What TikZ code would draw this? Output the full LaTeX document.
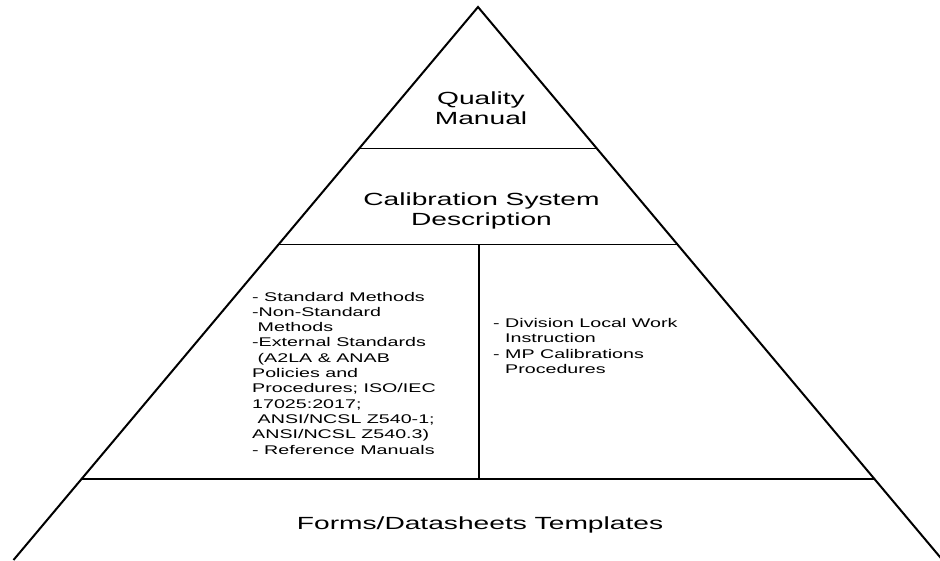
\documentclass[tikz,border=0pt]{standalone}
\usepackage{fontspec}
\setmainfont{Liberation Sans}
\newfontfamily\wf[FakeStretch=1.60]{Liberation Sans}
\newfontfamily\wfs[FakeStretch=1.56]{Liberation Sans}
\usetikzlibrary{calc}
\begin{document}
\begin{tikzpicture}[x=1pt,y=-1pt,
  edge/.style={line width=2pt, black},
  hline/.style={line width=1.7pt, black},
  divider/.style={line width=2.2pt, black},
  bigtext/.style={inner sep=0pt, align=center, font=\wf\fontsize{17.6}{19.8}\selectfont},
  smalltext/.style={inner sep=0pt, align=left, font=\wfs\fontsize{12.6}{15.3}\selectfont}]
\useasboundingbox (0,0) rectangle (940,560);
\coordinate (apex) at (478,7);
\coordinate (bl) at (13.5,560);
\coordinate (br) at (942.5,560);
\draw[edge, line join=miter] (bl) -- (apex) -- (br);
\coordinate (l1) at ($(apex)!0.2559!(bl)$);
\coordinate (r1) at ($(apex)!0.2559!(br)$);
\coordinate (l2) at ($(apex)!0.4295!(bl)$);
\coordinate (r2) at ($(apex)!0.4295!(br)$);
\coordinate (l3) at ($(apex)!0.8541!(bl)$);
\coordinate (r3) at ($(apex)!0.8541!(br)$);
\draw[hline] (l1) -- (r1);
\draw[hline] (l2) -- (r2);
\draw[hline] (l3) -- (r3);
\coordinate (dtop) at (479.3,244.5);
\coordinate (dbot) at (479.3,479.3);
\draw[divider] (dtop) -- (dbot);
\node[bigtext, anchor=base] (qm) at (481,124) {Quality\\Manual};
\node[bigtext, anchor=base] (csd) at (481.5,225) {Calibration System\\Description};
\node[bigtext, anchor=base] (forms) at (480,529.3) {Forms/Datasheets Templates};
\node[smalltext, anchor=base west] (left) at (252,454) {%
- Standard Methods\\
-Non-Standard\\
\hspace*{5.5pt}Methods\\
-External Standards\\
\hspace*{5.5pt}(A2LA \& ANAB\\
Policies and\\
Procedures; ISO/IEC\\
17025:2017;\\
\hspace*{5.5pt}ANSI/NCSL Z540-1;\\
ANSI/NCSL Z540.3)\\
- Reference Manuals};
\node[smalltext, anchor=base west] (right) at (493,373.5) {%
- Division Local Work\\
\phantom{- }Instruction\\
- MP Calibrations\\
\phantom{- }Procedures};
\end{tikzpicture}
\end{document}
